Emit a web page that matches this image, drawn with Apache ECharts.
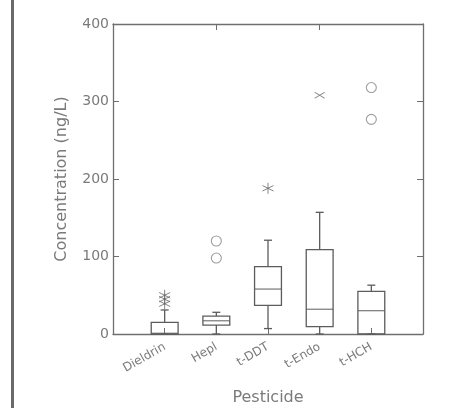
<!DOCTYPE html>
<html lang="en">
<head>
    <meta charset="UTF-8">
    <title>Pesticide concentration boxplot</title>
    <script src="https://cdn.jsdelivr.net/npm/echarts@6/dist/echarts.min.js"></script>
    <style>
        html, body, #chart {
            width: 100%;
            height: 100%;
            margin: 0;
            padding: 0;
            background: #fff;
        }
        body { overflow: hidden; }
    </style>
</head>
<body>
    <div id="chart"></div>
    <script>
        // categories (empty slots at both ends give the padding of the original plot)
        const categories = ['', 'Dieldrin', 'Hepl', 't-DDT', 't-Endo', 't-HCH', ''];
        const yTicks = [0, 100, 200, 300, 400];

        // [category index, min, Q1, median, Q3, max]
        const boxData = [
            [1, 0, 0, 1, 15, 31],
            [2, 0, 11.5, 17, 23, 28],
            [3, 7, 37, 58, 87, 121],
            [4, 0, 9.5, 32, 109, 157],
            [5, 0, 0, 30, 55, 63]
        ];

        // outliers, by marker type
        const starOutliers = [[1, 50], [1, 45], [1, 39], [3, 188]];
        const circleOutliers = [[2, 120], [2, 98], [5, 318], [5, 277]];
        const crossOutliers = [[4, 308]];

        const lineColor = '#6f6f6f';
        const boxColor = '#5c5c5c';
        const textColor = '#7a7a7a';
        const font = '"DejaVu Sans", sans-serif';

        // box with whiskers and short caps, like the original plotting program
        function renderBox(params, api) {
            const x = api.value(0);
            const pMin = api.coord([x, api.value(1)]);
            const pQ1 = api.coord([x, api.value(2)]);
            const pMed = api.coord([x, api.value(3)]);
            const pQ3 = api.coord([x, api.value(4)]);
            const pMax = api.coord([x, api.value(5)]);
            const half = api.size([1, 0])[0] * 0.26;
            const cap = 4;
            const cx = pMed[0];
            const style = { stroke: boxColor, lineWidth: 1.3, fill: null };
            return {
                type: 'group',
                children: [
                    { type: 'line', shape: { x1: cx, y1: pMin[1], x2: cx, y2: pQ1[1] }, style: style },
                    { type: 'line', shape: { x1: cx, y1: pQ3[1], x2: cx, y2: pMax[1] }, style: style },
                    { type: 'line', shape: { x1: cx - cap, y1: pMin[1], x2: cx + cap, y2: pMin[1] }, style: style },
                    { type: 'line', shape: { x1: cx - cap, y1: pMax[1], x2: cx + cap, y2: pMax[1] }, style: style },
                    { type: 'rect', shape: { x: cx - half, y: pQ3[1], width: half * 2, height: pQ1[1] - pQ3[1] }, style: style },
                    { type: 'line', shape: { x1: cx - half, y1: pMed[1], x2: cx + half, y2: pMed[1] }, style: { stroke: boxColor, lineWidth: 1 } }
                ]
            };
        }

        var chart = echarts.init(document.getElementById('chart'));

        var option = {
            animation: false,
            backgroundColor: '#fff',
            grid: { left: 113, right: 52, top: 24, bottom: 74, outerBoundsMode: 'none', containLabel: false },
            graphic: [
                // scanned page border on the left
                { type: 'rect', left: 11, top: 0, shape: { width: 3, height: 408 }, style: { fill: '#6a6a6a' } }
            ],
            xAxis: [
                {
                    type: 'category',
                    data: categories,
                    boundaryGap: false,
                    name: 'Pesticide',
                    nameLocation: 'middle',
                    nameGap: 56,
                    nameTextStyle: { color: textColor, fontSize: 16, fontFamily: font },
                    axisLine: { onZero: false, lineStyle: { color: lineColor, width: 1.3 } },
                    axisTick: { inside: true, length: 6, lineStyle: { color: lineColor } },
                    axisLabel: {
                        rotate: 30,
                        margin: 12,
                        interval: 0,
                        color: textColor,
                        fontSize: 12,
                        fontFamily: font
                    },
                    splitLine: { show: false }
                },
                {
                    type: 'category',
                    data: categories,
                    boundaryGap: false,
                    position: 'top',
                    axisLine: { onZero: false, lineStyle: { color: lineColor, width: 1.3 } },
                    axisTick: { inside: true, length: 6, lineStyle: { color: lineColor } },
                    axisLabel: { show: false },
                    splitLine: { show: false }
                }
            ],
            yAxis: [
                {
                    type: 'value',
                    min: yTicks[0],
                    max: yTicks[yTicks.length - 1],
                    interval: 100,
                    name: 'Concentration (ng/L)',
                    nameLocation: 'middle',
                    nameGap: 43,
                    nameTextStyle: { color: textColor, fontSize: 16, fontFamily: font },
                    axisLine: { show: true, onZero: false, lineStyle: { color: lineColor, width: 1.3 } },
                    axisTick: { show: true, inside: true, length: 6, lineStyle: { color: lineColor } },
                    axisLabel: { color: textColor, fontSize: 14, fontFamily: font, margin: 4 },
                    splitLine: { show: false }
                },
                {
                    type: 'value',
                    min: yTicks[0],
                    max: yTicks[yTicks.length - 1],
                    interval: 100,
                    position: 'right',
                    axisLine: { show: true, onZero: false, lineStyle: { color: lineColor, width: 1.3 } },
                    axisTick: { show: true, inside: true, length: 6, lineStyle: { color: lineColor } },
                    axisLabel: { show: false },
                    splitLine: { show: false }
                }
            ],
            series: [
                {
                    type: 'custom',
                    data: boxData,
                    encode: { x: 0, y: [1, 2, 3, 4, 5] },
                    renderItem: renderBox
                },
                {
                    type: 'scatter',
                    data: starOutliers,
                    symbol: 'path://M0,-5L0,5M-4.3,-2.5L4.3,2.5M-4.3,2.5L4.3,-2.5',
                    symbolSize: 11,
                    itemStyle: { color: 'none', borderColor: '#666', borderWidth: 1 }
                },
                {
                    type: 'scatter',
                    data: circleOutliers,
                    symbol: 'circle',
                    symbolSize: 10,
                    itemStyle: { color: 'none', borderColor: '#858585', borderWidth: 1.1 }
                },
                {
                    type: 'scatter',
                    data: crossOutliers,
                    symbol: 'path://M-5,-3L5,3M-5,3L5,-3',
                    symbolSize: [10, 6],
                    itemStyle: { color: 'none', borderColor: '#666', borderWidth: 1 }
                }
            ]
        };

        chart.setOption(option);
        window.addEventListener('resize', function () {
            chart.resize();
        });
    </script>
</body>
</html>
